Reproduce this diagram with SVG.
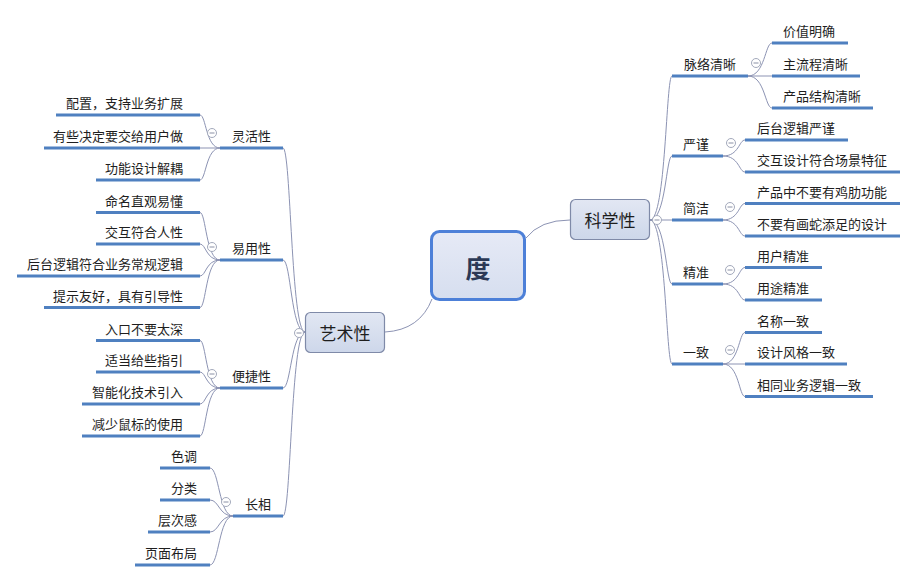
<svg xmlns="http://www.w3.org/2000/svg" width="917" height="581" viewBox="0 0 917 581">
<style>
.t{font-family:"Noto Sans CJK SC","Noto Sans",sans-serif;font-size:13px;fill:#1e1e1e;dominant-baseline:central}
.e{text-anchor:end}
.m{text-anchor:middle}
.ul{stroke:#4f80c0;stroke-width:3}
.cn{fill:none;stroke:#8c93b3;stroke-width:1}
.cc{fill:#fff;stroke:#a3a9bb;stroke-width:1}
.cm{stroke:#8a90a5;stroke-width:1}
.big{font-size:17px}
</style>
<defs>
<linearGradient id="gc" x1="0" y1="0" x2="0" y2="1"><stop offset="0" stop-color="#e6eaf6"/><stop offset="1" stop-color="#d6deef"/></linearGradient>
<linearGradient id="gs" x1="0" y1="0" x2="0" y2="1"><stop offset="0" stop-color="#e2e7f3"/><stop offset="1" stop-color="#cdd7ea"/></linearGradient>
<g id="col"><circle class="cc" r="4.5"/><line class="cm" x1="-2.5" y1="0" x2="2.5" y2="0"/></g>
</defs>
<rect width="917" height="581" fill="#fff"/>
<g id="connectors">
<path class="cn" d="M526 238 Q540 220 570 220"/>
<path class="cn" d="M385 332 Q420 330 432 299"/>
<path class="cn" d="M650 220 C666 220 666 76 672 76"/>
<path class="cn" d="M650 220 C666 220 666 156 672 156"/>
<path class="cn" d="M650 220 L672 220"/>
<path class="cn" d="M650 220 C666 220 666 284 672 284"/>
<path class="cn" d="M650 220 C666 220 666 364 672 364"/>
<path class="cn" d="M748 76 C765 76 765 43 772 43"/>
<path class="cn" d="M748 76 L772 76"/>
<path class="cn" d="M748 76 C765 76 765 108 772 108"/>
<path class="cn" d="M723 156 C739 156 739 140 745 140"/>
<path class="cn" d="M723 156 C739 156 739 172 745 172"/>
<path class="cn" d="M723 220 C739 220 739 203.5 745 203.5"/>
<path class="cn" d="M723 220 C739 220 739 236 745 236"/>
<path class="cn" d="M723 284 C739 284 739 267.5 745 267.5"/>
<path class="cn" d="M723 284 C739 284 739 300 745 300"/>
<path class="cn" d="M723 364 C739 364 739 332.5 745 332.5"/>
<path class="cn" d="M723 364 L745 364"/>
<path class="cn" d="M723 364 C739 364 739 396.5 745 396.5"/>
<path class="cn" d="M305 332 C291 332 291 148 283 148"/>
<path class="cn" d="M305 332 C291 332 291 260 283 260"/>
<path class="cn" d="M305 332 C291 332 291 388 283 388"/>
<path class="cn" d="M305 332 C291 332 291 516 283 516"/>
<path class="cn" d="M220 148 C206 148 206 115 200 115"/>
<path class="cn" d="M220 148 L200 148"/>
<path class="cn" d="M220 148 C206 148 206 180 200 180"/>
<path class="cn" d="M220 260 C206 260 206 212.5 200 212.5"/>
<path class="cn" d="M220 260 C206 260 206 244 200 244"/>
<path class="cn" d="M220 260 C206 260 206 276 200 276"/>
<path class="cn" d="M220 260 C206 260 206 307.5 200 307.5"/>
<path class="cn" d="M220 388 C206 388 206 340.5 200 340.5"/>
<path class="cn" d="M220 388 C206 388 206 372 200 372"/>
<path class="cn" d="M220 388 C206 388 206 404 200 404"/>
<path class="cn" d="M220 388 C206 388 206 436 200 436"/>
<path class="cn" d="M233 516 C219 516 219 468 210 468"/>
<path class="cn" d="M233 516 C219 516 219 500 210 500"/>
<path class="cn" d="M233 516 C219 516 219 532 210 532"/>
<path class="cn" d="M233 516 C219 516 219 565 210 565"/>
</g>
<g id="n-du">
<rect x="431.5" y="231.5" width="93" height="68" rx="8" fill="url(#gc)" stroke="#4d80d8" stroke-width="3"/>
<text class="t m" x="478" y="267" style="font-size:25px;font-weight:bold;fill:#2b3956">度</text>
</g>
<g id="n-kexuexing">
<rect x="570.5" y="199.5" width="79" height="40" rx="5" fill="url(#gs)" stroke="#7f8aa8" stroke-width="1.2"/>
<text class="t m big" x="610" y="219">科学性</text>
<use href="#col" x="657" y="220"/>
</g>
<g id="n-yishuxing">
<rect x="305.5" y="312.5" width="79" height="40" rx="5" fill="url(#gs)" stroke="#7f8aa8" stroke-width="1.2"/>
<text class="t m big" x="345" y="332">艺术性</text>
<use href="#col" x="299" y="333"/>
</g>
<g id="n-mailuo"><line class="ul" x1="672" y1="76" x2="748" y2="76"/><text class="t" x="684" y="63">脉络清晰</text><use href="#col" x="756" y="63"/></g>
<g id="n-jiazhi"><line class="ul" x1="772" y1="43" x2="848" y2="43"/><text class="t" x="783" y="30.5">价值明确</text></g>
<g id="n-zhuliucheng"><line class="ul" x1="772" y1="76" x2="860" y2="76"/><text class="t" x="783" y="63">主流程清晰</text></g>
<g id="n-chanpinjiegou"><line class="ul" x1="772" y1="108" x2="873" y2="108"/><text class="t" x="783" y="95.5">产品结构清晰</text></g>
<g id="n-yanjin"><line class="ul" x1="672" y1="156" x2="723" y2="156"/><text class="t" x="683" y="143">严谨</text><use href="#col" x="731" y="143"/></g>
<g id="n-houtai1"><line class="ul" x1="745" y1="140" x2="848" y2="140"/><text class="t" x="757" y="127.5">后台逻辑严谨</text></g>
<g id="n-jiaohu1"><line class="ul" x1="745" y1="172" x2="900" y2="172"/><text class="t" x="757" y="159.5">交互设计符合场景特征</text></g>
<g id="n-jianjie"><line class="ul" x1="672" y1="220" x2="723" y2="220"/><text class="t" x="683" y="207.5">简洁</text><use href="#col" x="730" y="207"/></g>
<g id="n-jilei"><line class="ul" x1="745" y1="203.5" x2="900" y2="203.5"/><text class="t" x="757" y="191">产品中不要有鸡肋功能</text></g>
<g id="n-huashe"><line class="ul" x1="745" y1="236" x2="900" y2="236"/><text class="t" x="757" y="223.5">不要有画蛇添足的设计</text></g>
<g id="n-jingzhun"><line class="ul" x1="672" y1="284" x2="723" y2="284"/><text class="t" x="683" y="271.5">精准</text><use href="#col" x="730" y="270"/></g>
<g id="n-yonghu"><line class="ul" x1="745" y1="267.5" x2="822" y2="267.5"/><text class="t" x="757" y="255">用户精准</text></g>
<g id="n-yongtu"><line class="ul" x1="745" y1="300" x2="822" y2="300"/><text class="t" x="757" y="287.5">用途精准</text></g>
<g id="n-yizhi"><line class="ul" x1="672" y1="364" x2="723" y2="364"/><text class="t" x="683" y="351.5">一致</text><use href="#col" x="730" y="350"/></g>
<g id="n-mingcheng"><line class="ul" x1="745" y1="332.5" x2="822" y2="332.5"/><text class="t" x="757" y="320">名称一致</text></g>
<g id="n-sheji"><line class="ul" x1="745" y1="364" x2="847" y2="364"/><text class="t" x="757" y="351.5">设计风格一致</text></g>
<g id="n-xiangtong"><line class="ul" x1="745" y1="396.5" x2="873" y2="396.5"/><text class="t" x="757" y="384">相同业务逻辑一致</text></g>
<g id="n-linghuo"><line class="ul" x1="220" y1="148" x2="283" y2="148"/><text class="t" x="232" y="135.5">灵活性</text><use href="#col" x="212" y="133"/></g>
<g id="n-peizhi"><line class="ul" x1="56" y1="115" x2="200" y2="115"/><text class="t e" x="183" y="102.5">配置，支持业务扩展</text></g>
<g id="n-youxie"><line class="ul" x1="44" y1="148" x2="200" y2="148"/><text class="t e" x="183" y="135.5">有些决定要交给用户做</text></g>
<g id="n-gongneng"><line class="ul" x1="96" y1="180" x2="200" y2="180"/><text class="t e" x="183" y="167.5">功能设计解耦</text></g>
<g id="n-yiyong"><line class="ul" x1="220" y1="260" x2="283" y2="260"/><text class="t" x="232" y="247.5">易用性</text><use href="#col" x="212" y="247"/></g>
<g id="n-mingming"><line class="ul" x1="96" y1="212.5" x2="200" y2="212.5"/><text class="t e" x="183" y="200">命名直观易懂</text></g>
<g id="n-jiaohu2"><line class="ul" x1="96" y1="244" x2="200" y2="244"/><text class="t e" x="183" y="231.5">交互符合人性</text></g>
<g id="n-houtai2"><line class="ul" x1="17" y1="276" x2="200" y2="276"/><text class="t e" x="183" y="263.5">后台逻辑符合业务常规逻辑</text></g>
<g id="n-tishi"><line class="ul" x1="44" y1="307.5" x2="200" y2="307.5"/><text class="t e" x="183" y="295">提示友好，具有引导性</text></g>
<g id="n-bianjie"><line class="ul" x1="220" y1="388" x2="283" y2="388"/><text class="t" x="232" y="375.5">便捷性</text><use href="#col" x="212" y="374"/></g>
<g id="n-rukou"><line class="ul" x1="96" y1="340.5" x2="200" y2="340.5"/><text class="t e" x="183" y="328">入口不要太深</text></g>
<g id="n-shidang"><line class="ul" x1="96" y1="372" x2="200" y2="372"/><text class="t e" x="183" y="359.5">适当给些指引</text></g>
<g id="n-zhineng"><line class="ul" x1="82" y1="404" x2="200" y2="404"/><text class="t e" x="183" y="391.5">智能化技术引入</text></g>
<g id="n-jianshao"><line class="ul" x1="82" y1="436" x2="200" y2="436"/><text class="t e" x="183" y="423.5">减少鼠标的使用</text></g>
<g id="n-zhangxiang"><line class="ul" x1="233" y1="516" x2="283" y2="516"/><text class="t" x="245" y="503.5">长相</text><use href="#col" x="226" y="502"/></g>
<g id="n-sediao"><line class="ul" x1="160" y1="468" x2="210" y2="468"/><text class="t e" x="197" y="455.5">色调</text></g>
<g id="n-fenlei"><line class="ul" x1="160" y1="500" x2="210" y2="500"/><text class="t e" x="197" y="487.5">分类</text></g>
<g id="n-cengci"><line class="ul" x1="148" y1="532" x2="210" y2="532"/><text class="t e" x="197" y="519.5">层次感</text></g>
<g id="n-yemian"><line class="ul" x1="135" y1="565" x2="210" y2="565"/><text class="t e" x="197" y="552.5">页面布局</text></g>
</svg>
